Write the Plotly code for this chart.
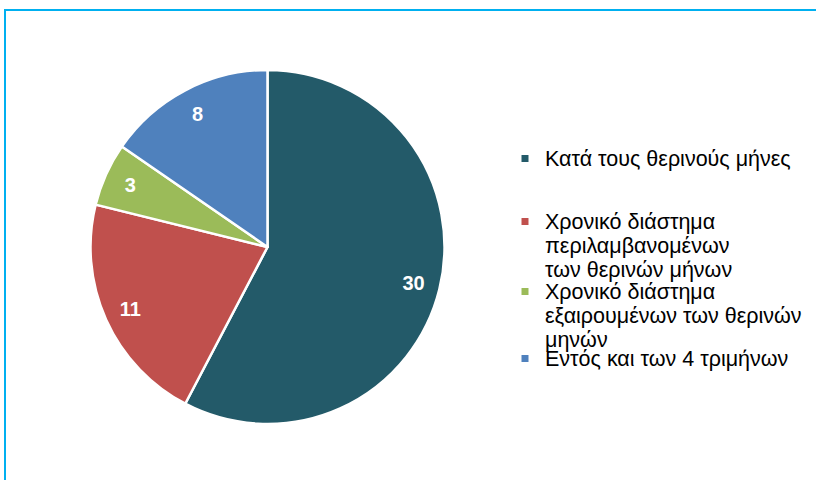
import plotly.graph_objects as go

categories = [
    "Κατά τους θερινούς μήνες",
    "Χρονικό διάστημα<br>περιλαμβανομένων<br>των θερινών μήνων",
    "Χρονικό διάστημα<br>εξαιρουμένων των θερινών<br>μηνών",
    "Εντός και των 4 τριμήνων",
]
values = [30, 11, 3, 8]
colors = ["#235A69", "#C0504D", "#9BBB59", "#4F81BD"]

W, H = 816, 480
BIG = 21.5
legend_tops = [140, 203, 273, 340]  # pixel tops of the legend entries


def legend_label(txt):
    return "<br>".join(f'<span style="font-size:{BIG}px">{ln}</span>' for ln in txt.split("<br>"))


dom = dict(x=[90.5 / W, 444.5 / W], y=[56 / H, 410 / H])

fig = go.Figure()
fig.add_trace(
    go.Pie(
        labels=categories,
        values=values,
        sort=False,
        direction="clockwise",
        rotation=0,
        marker=dict(colors=colors, line=dict(color="white", width=2.5)),
        textinfo="none",
        domain=dom,
        showlegend=False,
        hoverinfo="label+value",
    )
)
# transparent ring carrying the value labels near the outer edge
fig.add_trace(
    go.Pie(
        labels=categories,
        values=values,
        sort=False,
        direction="clockwise",
        rotation=0,
        hole=0.7,
        marker=dict(colors=["rgba(0,0,0,0)"] * len(values), line=dict(width=0)),
        textinfo="value",
        textposition="inside",
        insidetextorientation="horizontal",
        textfont=dict(family="Liberation Sans, Arial", size=20, color="white", weight="bold"),
        domain=dom,
        showlegend=False,
        hoverinfo="skip",
    )
)

# legend entries (one legend per category so each can sit where the reference puts it)
legend_layouts = {}
for i, (cat, col) in enumerate(zip(categories, colors)):
    lname = "legend" if i == 0 else f"legend{i + 1}"
    fig.add_trace(
        go.Scatter(
            x=[None],
            y=[None],
            mode="markers",
            name=legend_label(cat),
            marker=dict(symbol="square", size=7, color=col, line=dict(width=0)),
            legend=lname,
            showlegend=True,
            hoverinfo="skip",
        )
    )
    legend_layouts[lname] = dict(
        x=505 / W,
        y=1 - legend_tops[i] / H,
        xanchor="left",
        yanchor="top",
        valign="top",
        font=dict(size=18.5, color="black", family="Liberation Sans, Arial"),
        itemwidth=30,
        bgcolor="rgba(0,0,0,0)",
    )

fig.update_layout(
    width=W,
    height=H,
    margin=dict(l=0, r=0, t=0, b=0),
    paper_bgcolor="white",
    plot_bgcolor="rgba(0,0,0,0)",
    font=dict(family="Liberation Sans, Arial", color="black"),
    showlegend=True,
    xaxis=dict(visible=False),
    yaxis=dict(visible=False),
    shapes=[
        dict(
            type="rect",
            xref="paper",
            yref="paper",
            x0=5 / W,
            y0=-0.05,
            x1=1.05,
            y1=1 - 10 / H,
            line=dict(color="#00B0F0", width=2),
            fillcolor="rgba(0,0,0,0)",
        )
    ],
    **legend_layouts,
)

fig.write_html(
    "out.html",
    config={"displayModeBar": False},
    post_script="document.body.style.margin='0';document.body.style.overflow='hidden';",
)
